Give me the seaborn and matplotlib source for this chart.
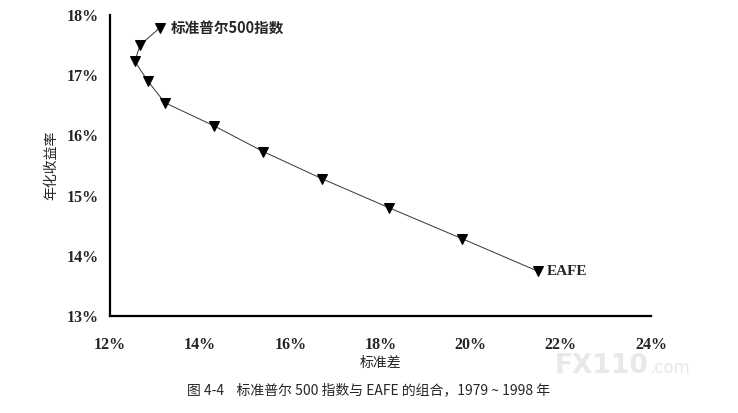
import pandas as pd
import numpy as np
import seaborn as sns
import matplotlib.pyplot as plt
from matplotlib.ticker import FuncFormatter

# 组合：标准普尔500 -> EAFE
std_dev = [13.1, 12.67, 12.55, 12.84, 13.22, 14.3, 15.4, 16.7, 18.18, 19.82, 21.5]
ann_ret = [17.78, 17.5, 17.23, 16.9, 16.54, 16.16, 15.73, 15.28, 14.8, 14.28, 13.74]
x_ticks = [12, 14, 16, 18, 20, 22, 24]
y_ticks = [13, 14, 15, 16, 17, 18]

df = pd.DataFrame({"sd": std_dev, "ret": ann_ret})

sns.set_style("white")
plt.rcParams['font.family'] = ['Noto Sans CJK SC', 'DejaVu Sans']

fig = plt.figure(figsize=(7.38, 4.13), dpi=100)
ax = fig.add_axes([0.149, 0.235, 0.733, 0.729])

sns.lineplot(data=df, x="sd", y="ret", sort=False, ax=ax, color="#333333",
             linewidth=0.7, marker="v", markersize=7, markerfacecolor="black",
             markeredgecolor="black")

ax.set_xlim(12, 24)
ax.set_ylim(13, 18)
ax.set_xticks(x_ticks)
ax.set_yticks(y_ticks)
pct = FuncFormatter(lambda v, p: f"{v:.0f}%")
ax.xaxis.set_major_formatter(pct)
ax.yaxis.set_major_formatter(pct)
for lab in ax.get_xticklabels() + ax.get_yticklabels():
    lab.set_family("Liberation Serif")
    lab.set_fontweight("bold")
    lab.set_fontsize(11.5)
ax.tick_params(axis="x", length=0, pad=15)
ax.tick_params(axis="y", length=0, pad=8)

sns.despine(ax=ax)
for s in ["left", "bottom"]:
    ax.spines[s].set_color("black")
    ax.spines[s].set_linewidth(1.6)

ax.set_xlabel("标准差", fontsize=10, labelpad=2)
ax.set_ylabel("年化收益率", fontsize=10, labelpad=6)

ax.annotate("标准普尔500指数", (std_dev[0], ann_ret[0]), xytext=(8, 0),
            textcoords="offset points", va="center", ha="left",
            fontsize=10.5, fontweight="bold")
ax.annotate("EAFE", (std_dev[-1], ann_ret[-1]), xytext=(6, 0),
            textcoords="offset points", va="center", ha="left",
            fontsize=11, fontweight="bold", family="Liberation Serif")

fig.text(0.5, 0.055, "图 4-4    标准普尔 500 指数与 EAFE 的组合，1979 ~ 1998 年",
         ha="center", va="center", fontsize=10)
# 水印
fig.text(0.752, 0.096, "FX110", ha="left", va="baseline", fontsize=19,
         fontweight="bold", color="#e8e8e8", family="DejaVu Sans", zorder=0)
fig.text(0.880, 0.096, ".com", ha="left", va="baseline", fontsize=12,
         color="#e8e8e8", family="DejaVu Sans", zorder=0)

fig.savefig("out.png", dpi=100)
